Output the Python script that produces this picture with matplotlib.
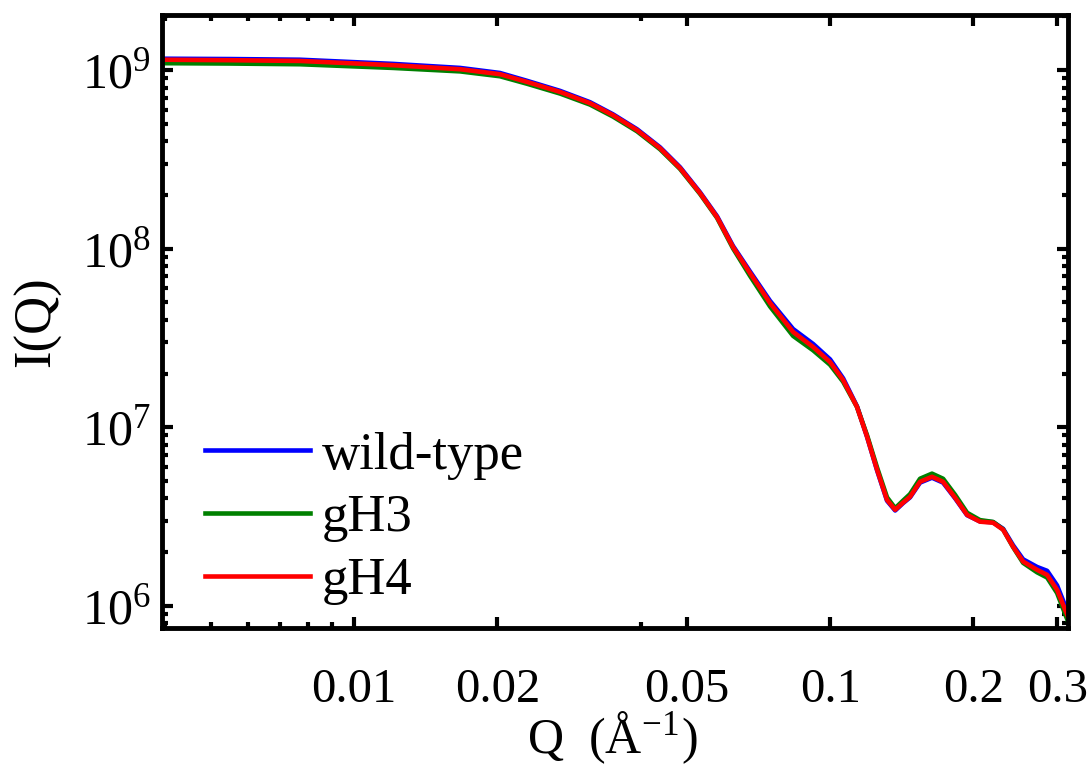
import matplotlib
matplotlib.use("Agg")
from matplotlib import pyplot as plt
from matplotlib.ticker import FixedLocator, FixedFormatter, LogLocator, NullFormatter
import numpy as np

plt.rcParams["font.family"] = ["Liberation Serif", "DejaVu Serif"]
plt.rcParams["mathtext.fontset"] = "stix"

# scattering vector Q (1/Angstrom)
q = [0.00395, 0.00549, 0.00770, 0.01208, 0.01670, 0.02026, 0.02309, 0.02709,
     0.03131, 0.03500, 0.03931, 0.04393, 0.04840, 0.05331, 0.05788, 0.06254,
     0.06790, 0.07480, 0.08362, 0.09210, 0.1000, 0.1065, 0.1139, 0.1196,
     0.1255, 0.1317, 0.1370, 0.1423, 0.1472, 0.1545, 0.1637, 0.1727,
     0.1831, 0.1940, 0.2065, 0.2200, 0.2309, 0.2424, 0.2544, 0.2722,
     0.2857, 0.2998, 0.3117, 0.3160]

# intensities I(Q)
wild_type = [1.16e9, 1.155e9, 1.145e9, 1.085e9, 1.03e9, 9.65e8, 8.72e8, 7.66e8,
             6.62e8, 5.66e8, 4.67e8, 3.70e8, 2.86e8, 2.07e8, 1.52e8, 1.035e8,
             7.45e7, 5.10e7, 3.55e7, 2.93e7, 2.40e7, 1.88e7, 1.31e7, 8.84e6,
             5.75e6, 3.88e6, 3.42e6, 3.76e6, 4.05e6, 4.90e6, 5.22e6, 4.90e6,
             4.00e6, 3.22e6, 2.97e6, 2.94e6, 2.70e6, 2.18e6, 1.82e6, 1.65e6,
             1.57e6, 1.30e6, 1.00e6, 8.9e5]
gH3 = [1.095e9, 1.09e9, 1.08e9, 1.03e9, 9.85e8, 9.25e8, 8.40e8, 7.40e8,
       6.42e8, 5.50e8, 4.55e8, 3.61e8, 2.80e8, 2.03e8, 1.49e8, 1.005e8,
       7.05e7, 4.75e7, 3.25e7, 2.70e7, 2.24e7, 1.80e7, 1.30e7, 9.0e6,
       5.95e6, 4.05e6, 3.52e6, 3.88e6, 4.22e6, 5.15e6, 5.50e6, 5.15e6,
       4.18e6, 3.32e6, 3.02e6, 2.95e6, 2.68e6, 2.13e6, 1.74e6, 1.54e6,
       1.44e6, 1.18e6, 9.0e5, 8.2e5]
gH4 = [1.145e9, 1.138e9, 1.127e9, 1.067e9, 1.013e9, 9.50e8, 8.60e8, 7.56e8,
       6.54e8, 5.60e8, 4.62e8, 3.66e8, 2.83e8, 2.05e8, 1.504e8, 1.022e8,
       7.31e7, 4.97e7, 3.42e7, 2.82e7, 2.32e7, 1.842e7, 1.301e7, 8.84e6,
       5.78e6, 3.92e6, 3.45e6, 3.78e6, 4.08e6, 4.95e6, 5.28e6, 4.95e6,
       4.03e6, 3.23e6, 2.96e6, 2.92e6, 2.67e6, 2.14e6, 1.77e6, 1.59e6,
       1.49e6, 1.23e6, 9.51e5, 8.7e5]

fig = plt.figure(figsize=(10.87, 7.66), dpi=100)
ax = fig.add_axes([0.149, 0.180, 0.8335, 0.800])

ax.plot(q, wild_type, color="blue", lw=3.3, label="wild-type")
ax.plot(q, gH3, color="green", lw=3.3, label="gH3")
ax.plot(q, gH4, color="red", lw=3.3, label="gH4")

ax.set_xscale("log")
ax.set_yscale("log")
ax.set_xlim(0.00395, 0.316)
ax.set_ylim(7.5e5, 2.03e9)

xt = [0.01, 0.02, 0.05, 0.1, 0.2, 0.3]
ax.xaxis.set_major_locator(FixedLocator(xt))
ax.xaxis.set_major_formatter(FixedFormatter(["0.01", "0.02", "0.05", "0.1", "0.2", "0.3"]))
ax.xaxis.set_minor_locator(FixedLocator([0.004, 0.005, 0.006, 0.007, 0.008, 0.009, 0.04]))
ax.xaxis.set_minor_formatter(NullFormatter())
ax.yaxis.set_major_locator(LogLocator(base=10, numticks=10))
ax.yaxis.set_minor_locator(LogLocator(base=10, subs=np.arange(2, 10), numticks=20))
ax.yaxis.set_minor_formatter(NullFormatter())

for s in ax.spines.values():
    s.set_linewidth(3.5)
ax.tick_params(which="both", direction="in", top=True, right=True, width=3)
ax.tick_params(which="major", length=8)
ax.tick_params(which="minor", length=4)
ax.tick_params(axis="x", which="major", labelsize=35, pad=29)
ax.tick_params(axis="y", which="major", labelsize=36, pad=8)

# x label placed just under the tick labels, like the original
fig.text(0.563, 0.0, "Q  (Å$^{\\mathregular{-1}}$)", fontsize=36,
         ha="center", va="bottom")
ax.set_ylabel("I(Q)", fontsize=38, labelpad=15)

ax.legend(loc="lower left", frameon=False, fontsize=38, handlelength=2.0,
          handletextpad=0.22, labelspacing=0.28, borderaxespad=0.0,
          bbox_to_anchor=(0.024, 0.003))

fig.savefig("out.png", dpi=100)
